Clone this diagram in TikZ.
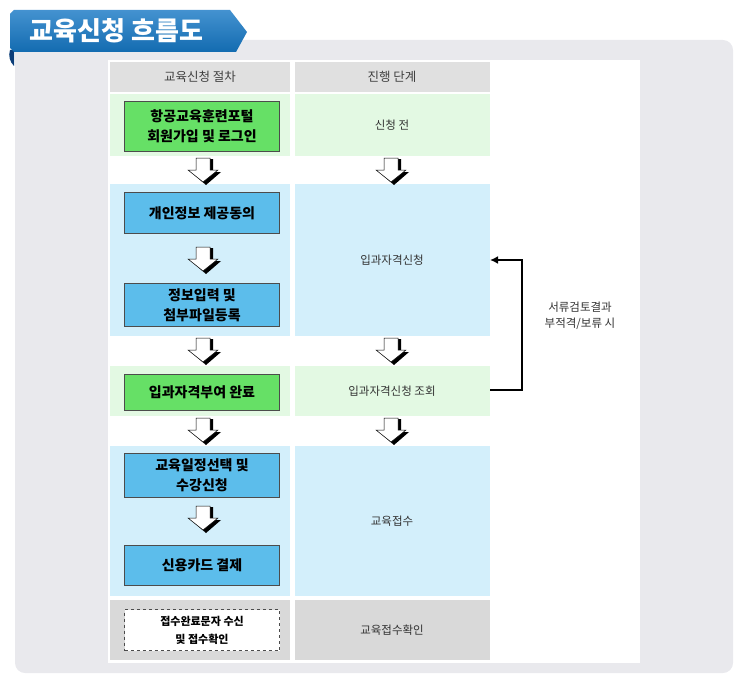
\documentclass[tikz,border=0pt]{standalone}
\usepackage{fontspec}
\setmainfont{Noto Sans CJK KR}
\usetikzlibrary{arrows.meta}
\definecolor{panel}{HTML}{E9E9ED}
\definecolor{hdr}{HTML}{E0E0E0}
\definecolor{lgreen}{HTML}{E3F9E3}
\definecolor{lblue}{HTML}{D3EFFB}
\definecolor{bgreen}{HTML}{66E066}
\definecolor{bblue}{HTML}{5CBDEB}
\definecolor{lgray}{HTML}{D9D9D9}
\definecolor{tblue}{HTML}{1577C4}
\definecolor{tdark}{HTML}{0B3D78}
\tikzset{
 cell/.style={inner sep=0pt,draw=none,anchor=north west},
 gbox/.style={draw=black!70,fill=bgreen,minimum width=155pt,inner sep=1pt,align=center,font=\bfseries\fontsize{14}{20}\selectfont},
 bbox/.style={gbox,fill=bblue},
 rtext/.style={font=\fontsize{11.5}{14}\selectfont,text=black!80},
 htext/.style={font=\fontsize{12.5}{14}\selectfont,text=black!75},
}
\newcommand{\hollowarrow}[2]{%
 \begin{scope}[shift={(#1,#2)}]
  \fill[black] (-5,0)--(9,0)--(9,13)--(17,13)--(2,26)--(-13,13)--(-5,13)--cycle;
  \filldraw[fill=white,draw=black,line width=0.5pt] (-8,-1)--(6,-1)--(6,11)--(14,11)--(-1,23)--(-16,11)--(-8,11)--cycle;
 \end{scope}}
\begin{document}
\begin{tikzpicture}[x=1pt,y=-1pt]
\useasboundingbox (0,0) rectangle (743,682);
% panel
\fill[panel,rounded corners=10pt] (15,40) rectangle (733,673);
\fill[white] (108,60) rectangle (640,663);
% title tab
\fill[tdark] (10,50) .. controls (8,56) and (10,62) .. (14,66) -- (14,50) -- cycle;
\shade[top color=tblue!80!white,bottom color=tblue!90!black] (14,10) -- (230,10) -- (247,32) -- (236,52) -- (14,52) -- (10,48) -- (10,14) -- cycle;
\node[text=white,font=\bfseries\fontsize{26}{28}\selectfont,anchor=west] (title) at (26,31) {교육신청 흐름도};
% header
\fill[hdr] (110,62) rectangle (290,92);
\fill[hdr] (295,62) rectangle (490,92);
\node[htext] (h1) at (200,77) {교육신청 절차};
\node[htext] (h2) at (392,77) {진행 단계};
% rows backgrounds
\fill[lgreen] (110,94) rectangle (290,156); \fill[lgreen] (295,94) rectangle (490,156);
\fill[lblue] (110,184) rectangle (290,336); \fill[lblue] (295,184) rectangle (490,336);
\fill[lgreen] (110,366) rectangle (290,416); \fill[lgreen] (295,366) rectangle (490,416);
\fill[lblue] (110,446) rectangle (290,596); \fill[lblue] (295,446) rectangle (490,596);
\fill[lgray] (110,600) rectangle (290,660); \fill[lgray] (295,600) rectangle (490,660);
% left boxes
\node[gbox,minimum height=50pt] (b1) at (202,126) {항공교육훈련포털\\회원가입 및 로그인};
\node[bbox,minimum height=41pt] (b2) at (202,213) {개인정보 제공동의};
\node[bbox,minimum height=43pt] (b3) at (202,305) {정보입력 및\\첨부파일등록};
\node[gbox,minimum height=36pt] (b4) at (202,392) {입과자격부여 완료};
\node[bbox,minimum height=44pt] (b5) at (202,475) {교육일정선택 및\\수강신청};
\node[bbox,minimum height=40pt] (b6) at (202,565) {신용카드 결제};
\node[draw=black!70,dashed,fill=white,minimum width=155pt,minimum height=41pt,align=center,font=\bfseries\fontsize{11}{18}\selectfont] (b7) at (202,630) {접수완료문자 수신\\ 및 접수확인};
% right texts
\node[rtext] (r1) at (392,125) {신청 전};
\node[rtext] (r2) at (392,260) {입과자격신청};
\node[rtext] (r3) at (392,391) {입과자격신청 조회};
\node[rtext] (r4) at (392,521) {교육접수};
\node[rtext] (r5) at (392,630) {교육접수확인};
% hollow arrows
\hollowarrow{204}{159}
\hollowarrow{204}{248}
\hollowarrow{204}{339}
\hollowarrow{204}{419}
\hollowarrow{204}{507}
\hollowarrow{392}{159}
\hollowarrow{392}{339}
\hollowarrow{392}{419}
% feedback
\coordinate (fa) at (490,390);
\coordinate (fb) at (490,260);
\draw[line width=2pt,-{Latex[length=8pt,width=8pt]}] (fa) -- (522,390) -- (522,260) -- (fb);
\node[align=center,font=\fontsize{11.5}{16}\selectfont,text=black!80] (lbl) at (580,316) {서류검토결과\\부적격/보류 시};
\end{tikzpicture}
\end{document}
